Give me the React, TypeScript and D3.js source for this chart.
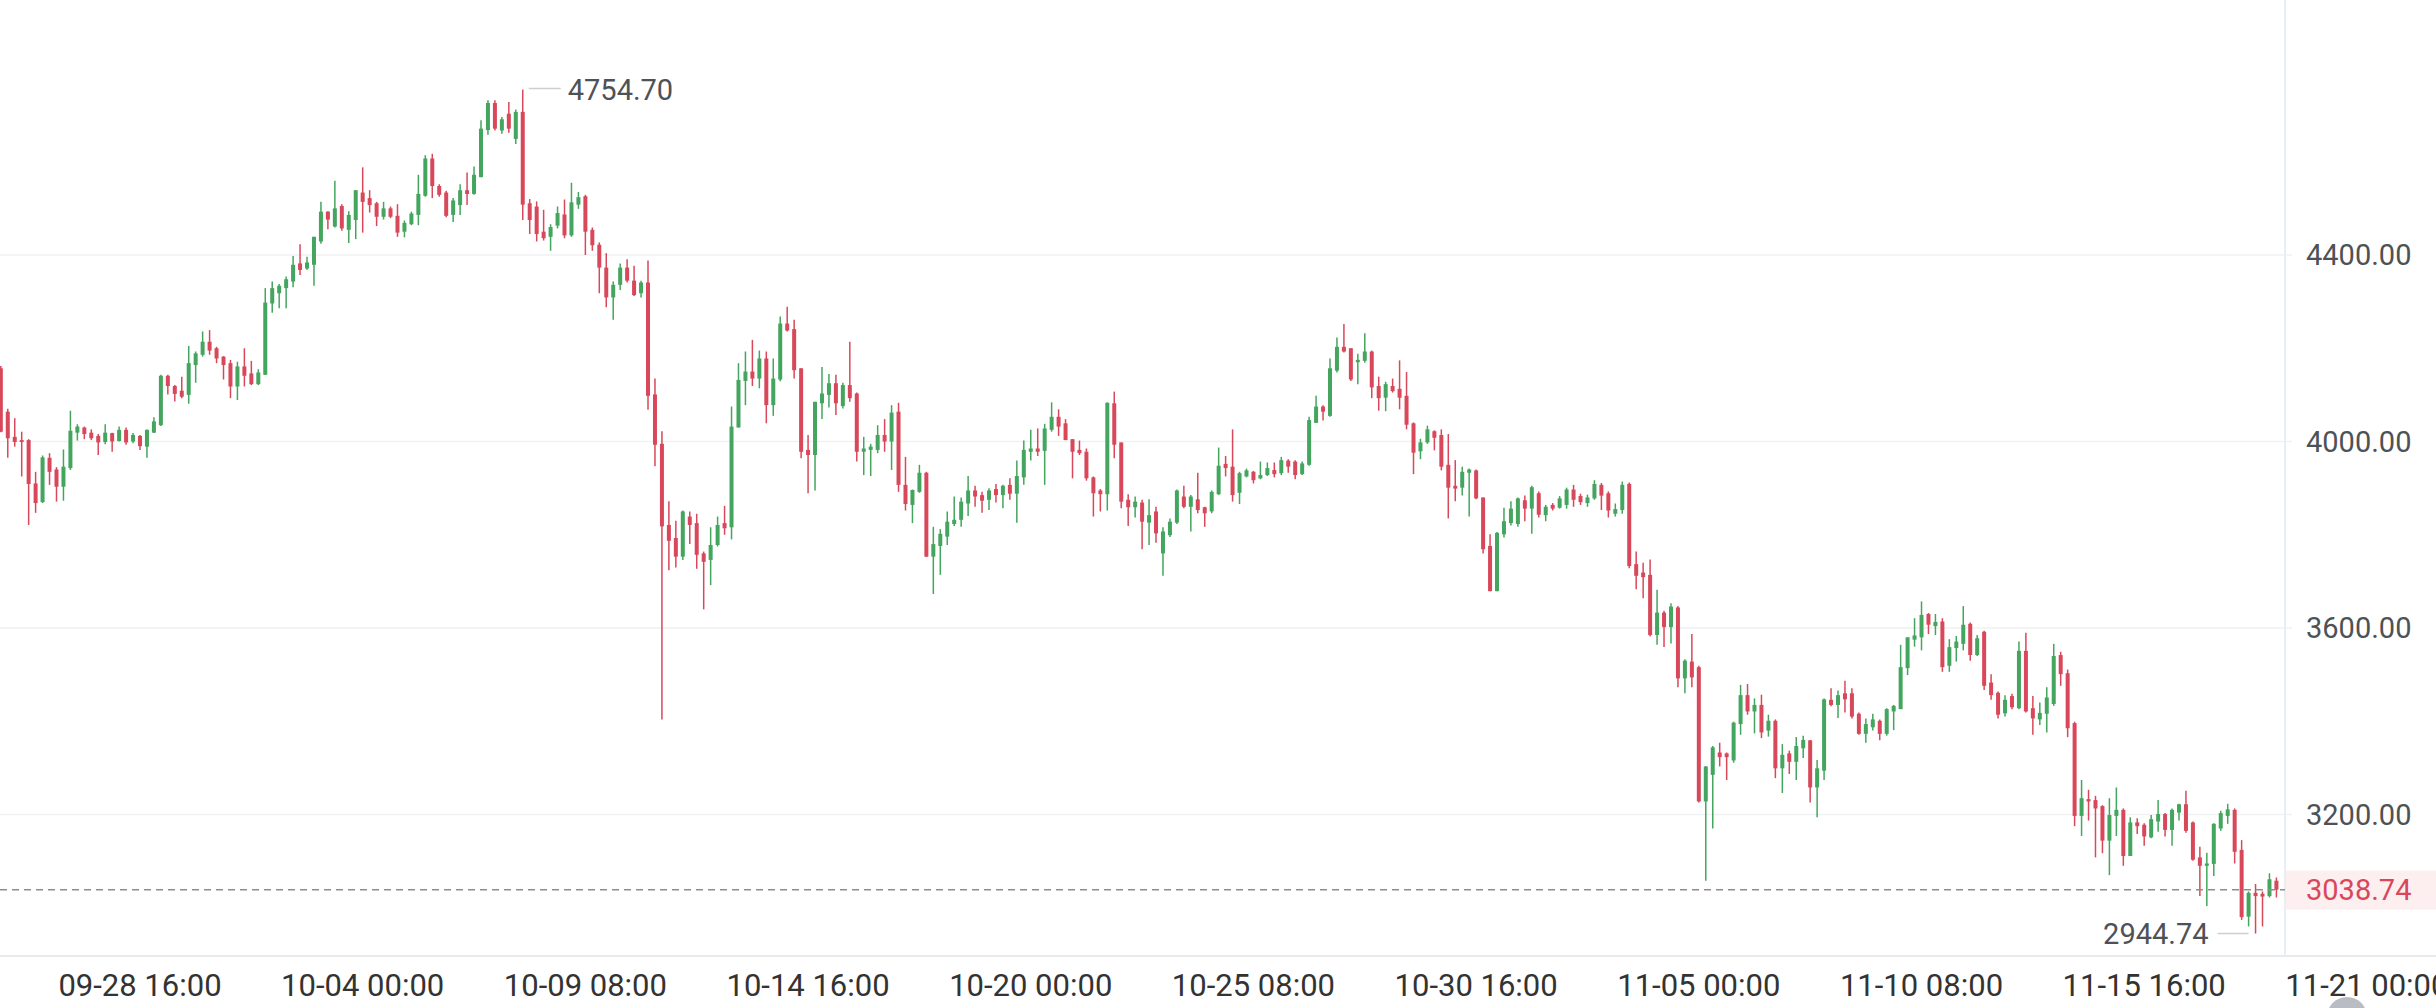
import React from "react";
import * as d3 from "d3";

// ---- data (4h candles starting 09-25 08:00) ----
const startTime = "2025-09-25T08:00:00";
const opens = [4157,4064,4010,4003,4003,3910,3870,3965,3940,3903,3943,4019,4030,4019,4012,3999,4018,4001,4025,4000,4012,3989,4019,4035,4141,4119,4109,4100,4164,4186,4214,4200,4182,4168,4118,
4161,4146,4123,4143,4296,4318,4329,4343,4382,4371,4379,4429,4493,4461,4505,4454,4475,4534,4522,4511,4482,4500,4484,4450,4466,4486,4527,4607,4548,4534,4486,4507,4539,4531,4567,4668,4726,4667,4703,4649,4707,4511,4504,4450,4439,4463,4487,4442,4508,4526,4454,4422,4373,4309,4336,4373,4345,4318,4341,4101,3995,3821,3793,3753,3839,3825,
3760,3746,3778,3825,3816,4030,4130,4150,4135,4178,4078,4133,4253,4241,4157,3982,3971,4082,4100,4125,4076,4121,4103,3978,3982,3982,4014,4000,4064,3907,3864,3892,3933,3753,3776,3796,3823,3832,3867,3895,3885,3875,3898,3885,3907,3888,3923,3978,3985,3980,4025,4053,4039,4005,3982,3978,3923,3895,3887,4082,3998,3875,3859,3869,3826,3850,
3760,3799,3826,3882,3860,3876,3859,3850,3887,3952,3946,3890,3925,3935,3921,3928,3939,3932,3959,3957,3930,3950,4040,4075,4055,4152,4203,4200,4170,4173,4193,4119,4094,4119,4113,4098,4039,3979,3998,4022,4014,3950,3905,3901,3933,3938,3880,3776,3679,3801,3825,3823,3874,3856,3889,3842,3864,3858,3864,3897,3883,3868,3878,3907,3889,3845,
3853,3909,3737,3719,3714,3585,3633,3602,3644,3492,3528,3516,3228,3285,3333,3331,3316,3394,3456,3421,3435,3380,3401,3299,3331,3313,3342,3359,3258,3294,3446,3435,3460,3460,3416,3373,3387,3401,3373,3421,3426,3514,3575,3580,3630,3604,3614,3519,3557,3566,3609,3542,3592,3483,3461,3417,3454,3428,3551,3428,3404,3416,3437,3542,3503,3396,
3197,3233,3231,3218,3144,3197,3210,3111,3183,3178,3151,3185,3201,3167,3204,3222,3183,3108,3090,3094,3170,3197,3210,3124,2981,3032,3030,3025,3058];
const highs = [4162,4070,4050,4021,4005,3935,3970,3975,3945,3983,4066,4037,4032,4026,4016,4037,4019,4032,4030,4018,4014,4026,4052,4143,4143,4121,4139,4205,4193,4236,4239,4203,4183,4175,4171,
4200,4173,4155,4329,4343,4338,4354,4398,4423,4396,4439,4514,4494,4559,4509,4494,4539,4588,4539,4514,4514,4504,4509,4474,4493,4572,4614,4617,4552,4538,4522,4552,4577,4590,4689,4732,4732,4696,4728,4712,4754.7,4520,4515,4497,4466,4504,4519,4555,4535,4529,4459,4427,4404,4343,4382,4391,4377,4345,4388,4135,4022,3872,3830,3852,3850,3845,
3764,3816,3839,3862,4075,4168,4193,4218,4195,4193,4178,4268,4289,4261,4157,4014,4085,4160,4145,4143,4126,4214,4105,4010,3995,4035,4048,4078,4083,3967,3897,3950,3935,3817,3812,3850,3882,3880,3926,3905,3892,3900,3909,3907,3921,3959,4002,4025,4028,4038,4084,4069,4048,4005,4002,3985,3925,3898,4084,4107,3998,3887,3882,3875,3876,3860,
3816,3835,3897,3905,3885,3933,3860,3895,3987,3969,4026,3935,3942,3937,3957,3955,3955,3967,3962,3960,3957,4053,4098,4078,4178,4223,4252,4200,4188,4232,4195,4139,4128,4135,4174,4149,4041,4006,4034,4024,4026,4016,3960,3946,3942,3940,3880,3801,3806,3858,3872,3880,3884,3905,3893,3864,3868,3883,3901,3907,3888,3886,3917,3911,3893,3867,
3914,3912,3764,3740,3747,3682,3637,3653,3647,3533,3587,3519,3304,3347,3354,3333,3399,3478,3480,3449,3457,3414,3404,3351,3337,3366,3369,3360,3317,3449,3471,3466,3487,3471,3419,3406,3416,3404,3428,3435,3564,3580,3621,3657,3632,3630,3621,3576,3583,3647,3612,3585,3594,3501,3464,3456,3459,3571,3590,3454,3440,3473,3566,3549,3511,3399,
3274,3253,3240,3220,3235,3258,3213,3194,3192,3181,3199,3231,3203,3213,3223,3251,3185,3131,3118,3181,3208,3223,3213,3145,3035,3051,3035,3074,3065];
const lows = [4020,3965,3989,3925,3821,3847,3868,3907,3871,3873,3939,4002,4005,4003,3971,3994,3978,4000,3993,3996,3982,3965,4018,4033,4101,4086,4093,4081,4126,4182,4186,4168,4133,4093,4089,
4118,4121,4121,4143,4276,4286,4286,4331,4357,4368,4334,4424,4455,4459,4452,4426,4434,4448,4491,4462,4476,4479,4439,4438,4464,4464,4525,4522,4525,4481,4471,4486,4507,4529,4567,4658,4667,4660,4662,4638,4475,4445,4429,4431,4409,4457,4436,4439,4499,4400,4409,4318,4288,4261,4325,4341,4312,4309,4068,3947,3404,3724,3730,3746,3780,3727,
3640,3692,3775,3800,3790,4030,4078,4119,4114,4039,4055,4129,4236,4135,3964,3889,3895,4048,4073,4057,4071,4085,3957,3928,3926,3975,3978,3939,3892,3852,3825,3890,3752,3673,3714,3778,3819,3817,3840,3860,3847,3853,3869,3857,3875,3826,3907,3959,3969,3907,4021,4012,4003,3921,3971,3916,3839,3850,3852,3964,3857,3819,3837,3769,3778,3783,
3712,3795,3823,3857,3807,3846,3817,3846,3885,3925,3871,3866,3923,3910,3919,3926,3923,3928,3933,3919,3928,3948,4040,4045,4053,4148,4191,4130,4123,4169,4093,4066,4065,4105,4069,4026,3930,3962,3995,3981,3938,3835,3872,3884,3839,3876,3760,3679,3679,3794,3820,3817,3829,3802,3837,3829,3852,3856,3856,3860,3864,3860,3875,3853,3837,3839,
3845,3728,3683,3664,3582,3564,3559,3567,3473,3460,3473,3226,3058,3170,3303,3274,3311,3371,3414,3374,3364,3367,3278,3246,3287,3274,3321,3226,3194,3274,3432,3407,3419,3406,3371,3354,3380,3359,3369,3381,3426,3499,3560,3552,3587,3585,3506,3506,3528,3552,3530,3540,3467,3446,3406,3410,3426,3426,3419,3371,3392,3376,3433,3476,3366,3175,
3154,3187,3108,3117,3070,3154,3090,3111,3158,3133,3149,3163,3153,3133,3187,3161,3101,3025,3004,3068,3165,3180,3095,2974,2960,2944.74,2960,3022,3022];
const closes = [4021,4007,3999,3999,3909,3868,3966,3935,3903,3946,4023,4032,4016,4007,3998,4019,4000,4025,3998,4014,3990,4025,4043,4141,4119,4102,4096,4168,4189,4214,4195,4178,4164,4118,4161,
4141,4123,4148,4298,4329,4334,4348,4379,4368,4384,4439,4493,4476,4500,4457,4486,4539,4514,4507,4482,4500,4482,4448,4469,4489,4531,4607,4548,4529,4484,4517,4539,4531,4572,4671,4726,4671,4691,4671,4707,4508,4475,4445,4436,4460,4490,4442,4513,4524,4450,4421,4373,4309,4336,4373,4345,4314,4341,4098,3993,3818,3787,3753,3850,3821,3757,
3742,3778,3821,3814,4032,4132,4150,4135,4178,4078,4135,4253,4238,4153,3978,3971,4085,4103,4125,4082,4121,4093,3978,3985,3989,4014,4000,4062,3907,3866,3896,3933,3753,3780,3802,3828,3832,3871,3895,3882,3873,3895,3885,3905,3888,3926,3982,3985,3978,4028,4053,4032,4003,3978,3975,3921,3889,3887,4083,3993,3871,3859,3871,3828,3842,3803,
3807,3828,3895,3860,3882,3853,3846,3892,3948,3943,3885,3932,3938,3917,3928,3943,3930,3960,3946,3928,3953,4046,4075,4064,4157,4203,4193,4133,4175,4193,4116,4093,4123,4108,4094,4036,3976,3998,4026,4008,3946,3901,3899,3935,3940,3878,3769,3679,3804,3829,3856,3878,3856,3902,3843,3860,3856,3878,3897,3875,3870,3880,3909,3884,3852,3855,
3907,3733,3712,3709,3585,3633,3602,3646,3492,3530,3494,3228,3303,3344,3323,3323,3397,3456,3421,3435,3376,3401,3299,3328,3313,3347,3360,3258,3299,3447,3435,3456,3447,3410,3373,3394,3404,3373,3426,3433,3516,3580,3584,3628,3607,3613,3516,3559,3571,3607,3542,3578,3476,3456,3414,3446,3430,3551,3421,3406,3418,3451,3540,3501,3385,3197,
3235,3228,3213,3144,3199,3210,3111,3183,3175,3153,3190,3201,3167,3210,3222,3165,3103,3090,3095,3180,3203,3211,3120,2980,3032,3025,3024,3061,3038.74];

const priceTicks = [4400, 4000, 3600, 3200];
const timeTickLabels = ["09-28 16:00","10-04 00:00","10-09 08:00","10-14 16:00","10-20 00:00","10-25 08:00","10-30 16:00","11-05 00:00","11-10 08:00","11-15 16:00","11-21 00:00"];
const lastPrice = 3038.74;

const W = 2436, H = 1008;
const UP = "#44a55e", DOWN = "#d8485a";
const FONT = "Roboto, 'Noto Sans', Arial, sans-serif";

const parseLabel = (s: string) => {
  const [md, hm] = s.split(" ");
  const [mo, da] = md.split("-").map(Number);
  const [hh, mm] = hm.split(":").map(Number);
  return new Date(2025, mo - 1, da, hh, mm);
};

export default function App() {
  const t0 = new Date(startTime);
  const times = opens.map((_, i) => new Date(t0.getTime() + i * 4 * 3600 * 1000));
  const x = d3.scaleTime()
    .domain([parseLabel("09-28 16:00"), parseLabel("11-15 16:00")])
    .range([140, 2144.2]);
  const y = d3.scaleLinear().domain([3200, 4400]).range([814.5, 255]);

  const plotRight = 2285;
  const axisY = 956;
  const bodyW = 4;

  const maxI = d3.maxIndex(highs);
  const minI = d3.minIndex(lows);
  const maxX = x(times[maxI]);
  const minX = x(times[minI]);

  return (
    <svg width={W} height={H} style={{ position: "fixed", left: 0, top: 0, background: "#fff" }}
      fontFamily={FONT}>
      <rect x={0} y={0} width={W} height={H} fill="#fff" />
      {priceTicks.map((p) => (
        <line key={p} x1={0} x2={2292} y1={y(p)} y2={y(p)} stroke="#f0f1f3" strokeWidth={1.5} />
      ))}
      <line x1={plotRight} x2={plotRight} y1={0} y2={axisY} stroke="#e8eef2" strokeWidth={2} />
      <line x1={0} x2={W} y1={axisY} y2={axisY} stroke="#e8eaec" strokeWidth={2} />

      {/* candles */}
      {opens.map((o, i) => {
        const c = closes[i];
        const cx = x(times[i]);
        const up = c >= o;
        const col = up ? UP : DOWN;
        const top = y(Math.max(o, c));
        const bot = y(Math.min(o, c));
        return (
          <g key={i}>
            <line x1={cx} x2={cx} y1={y(highs[i])} y2={y(lows[i])} stroke={col} strokeWidth={1.5} />
            <rect x={cx - bodyW / 2} y={top} width={bodyW} height={Math.max(1.5, bot - top)} fill={col} />
          </g>
        );
      })}

      {/* current price line */}
      <line x1={0} x2={plotRight} y1={y(lastPrice)} y2={y(lastPrice)} stroke="#8e8e8e" strokeWidth={1.5} strokeDasharray="7 5" />
      <rect x={plotRight + 1} y={y(lastPrice) - 19} width={W - plotRight} height={39} fill="#fdeff0" />
      <text x={2306} y={y(lastPrice)} dominantBaseline="central" fontSize={29} fill="#d8485a">{lastPrice.toFixed(2)}</text>

      {/* price axis labels */}
      {priceTicks.map((p) => (
        <text key={p} x={2306} y={y(p)} dominantBaseline="central" fontSize={29} fill="#4d5257">{p.toFixed(2)}</text>
      ))}

      {/* max / min annotations */}
      <line x1={maxX + 6} x2={maxX + 38} y1={y(highs[maxI]) - 1} y2={y(highs[maxI]) - 1} stroke="#cfcfcf" strokeWidth={1.5} />
      <text x={maxX + 45} y={y(highs[maxI])} dominantBaseline="central" fontSize={29} fill="#4d5257">{highs[maxI].toFixed(2)}</text>
      <line x1={minX - 38} x2={minX - 7} y1={y(lows[minI])} y2={y(lows[minI])} stroke="#cfcfcf" strokeWidth={1.5} />
      <text x={minX - 47} y={y(lows[minI])} dominantBaseline="central" textAnchor="end" fontSize={29} fill="#4d5257">{lows[minI].toFixed(2)}</text>

      {/* time axis labels */}
      {timeTickLabels.map((s) => (
        <text key={s} x={x(parseLabel(s))} y={985} dominantBaseline="central" textAnchor="middle" fontSize={31} fill="#333">{s}</text>
      ))}
      <circle cx={2347} cy={1017} r={20} fill="#b9bdc3" />
    </svg>
  );
}
